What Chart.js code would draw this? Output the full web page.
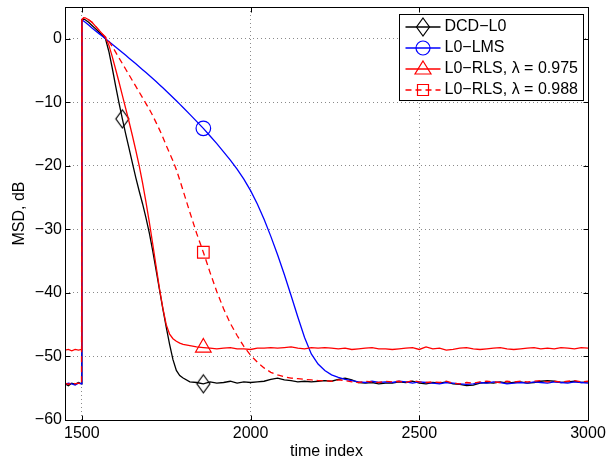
<!DOCTYPE html>
<html>
<head>
<meta charset="utf-8">
<script src="https://cdn.jsdelivr.net/npm/chart.js@4"></script>
<style>
  html, body { margin: 0; padding: 0; background: #fff; }
  #wrap { width: 608px; height: 462px; }
</style>
</head>
<body>
<div id="wrap"><canvas id="msdChart" width="608" height="462"></canvas></div>
<script>
// time axis samples (shared by all curves)
const timeIdx = [
  1450, 1460, 1470, 1480, 1490, 1499, 1500, 1505,
  1510, 1520, 1530, 1540, 1550, 1560, 1570, 1580, 1590, 1600,
  1610, 1620, 1630, 1640, 1650, 1660, 1670, 1680, 1690, 1700,
  1710, 1720, 1730, 1740, 1750, 1760, 1770, 1780, 1790, 1800,
  1820, 1840, 1860, 1880, 1900, 1920, 1940, 1960, 1980, 2000,
  2020, 2040, 2060, 2080, 2100, 2120, 2140, 2160, 2180, 2200,
  2220, 2240, 2260, 2280, 2300, 2320, 2340, 2360, 2380, 2400,
  2420, 2440, 2460, 2480, 2500, 2520, 2540, 2560, 2580, 2600,
  2620, 2640, 2660, 2680, 2700, 2720, 2740, 2760, 2780, 2800,
  2820, 2840, 2860, 2880, 2900, 2920, 2940, 2960, 2980, 3000
];

const dcdMsd = [
  -54.3, -54.6, -54.2, -54.4, -54.1, -54.3, 3.0, 3.1,
  3.0, 2.6, 2.1, 1.6, 1.1, 0.6, 0.0, -2.0, -4.6, -7.4,
  -10.1, -12.6, -15.0, -17.3, -19.6, -21.9, -24.0, -26.0, -28.2, -30.6,
  -33.4, -36.4, -39.5, -42.5, -45.4, -48.1, -50.5, -52.2, -53.0, -53.4,
  -54.0, -54.1, -54.3, -54.0, -54.2, -54.1, -53.9, -54.2, -54.0, -54.1,
  -54.0, -53.9, -53.6, -53.4, -53.7, -53.8, -54.0, -53.9, -54.0, -53.9,
  -53.8, -53.9, -53.6, -53.4, -53.7, -54.1, -54.2, -54.1, -54.3, -54.2,
  -54.2, -54.0, -54.1, -53.9, -54.2, -54.3, -54.1, -54.2, -54.0, -54.3,
  -54.4, -54.6, -54.5, -54.2, -54.1, -54.2, -54.0, -54.2, -54.1, -54.0,
  -54.2, -54.1, -53.9, -53.8, -53.9, -54.1, -54.0, -53.9, -54.1, -54.0
];

const lmsMsd = [
  -54.4, -54.2, -54.3, -54.5, -54.2, -54.3, 3.0, 2.8,
  2.6, 2.15, 1.7, 1.27, 0.85, 0.42, 0.0, -0.43, -0.86, -1.3,
  -1.73, -2.17, -2.61, -3.05, -3.5, -3.95, -4.4, -4.86, -5.32, -5.79,
  -6.26, -6.74, -7.22, -7.71, -8.21, -8.72, -9.23, -9.75, -10.28, -10.81,
  -11.9, -13.0, -14.1, -15.3, -16.5, -17.8, -19.1, -20.5, -22.1, -23.9,
  -26.0, -28.4, -31.1, -34.0, -37.1, -40.4, -43.8, -47.0, -49.6, -51.2,
  -52.2, -52.9, -53.3, -53.6, -53.8, -54.0, -54.1, -53.9, -54.1, -54.0,
  -54.1, -53.9, -54.0, -54.2, -54.0, -54.1, -54.2, -54.3, -54.1, -54.2,
  -54.3, -54.4, -54.3, -54.1, -54.2, -54.0, -54.1, -54.3, -54.2, -54.1,
  -54.2, -54.0, -54.1, -54.2, -54.0, -54.1, -54.2, -54.0, -54.1, -54.2
];

const rls975Msd = [
  -49.0, -48.9, -49.1, -48.9, -49.0, -48.9, 3.0, 3.3,
  3.3, 3.0, 2.6, 2.0, 1.4, 0.8, 0.2, -1.0, -2.8, -4.8,
  -6.8, -8.9, -11.0, -13.1, -15.3, -17.6, -20.0, -22.7, -25.7, -28.9,
  -32.3, -35.8, -39.3, -42.4, -45.0, -46.5, -47.2, -47.6, -47.9, -48.1,
  -48.3, -48.5, -48.6, -48.7, -48.8, -48.7, -48.6, -48.8, -48.8, -48.9,
  -48.7, -48.7, -48.6, -48.7, -48.6, -48.5, -48.7, -48.8, -48.6, -48.7,
  -48.6, -48.7, -48.8, -48.7, -48.9, -48.8, -48.7, -48.6, -48.8, -48.8,
  -48.9, -48.8, -48.7, -48.6, -48.9, -48.5, -48.8, -48.7, -49.0, -48.9,
  -48.7, -48.6, -48.8, -48.9, -48.8, -48.7, -48.6, -48.8, -48.9, -48.8,
  -48.7, -48.6, -48.8, -48.7, -48.8, -48.6, -48.7, -48.8, -48.6, -48.7
];

const rls988Msd = [
  -54.2, -54.4, -54.1, -54.3, -54.2, -54.4, 3.0, 3.3,
  3.3, 3.0, 2.6, 2.0, 1.4, 0.8, 0.3, -0.4, -1.2, -2.1,
  -3.0, -3.9, -4.8, -5.7, -6.6, -7.5, -8.4, -9.3, -10.2, -11.1,
  -12.1, -13.2, -14.3, -15.5, -16.8, -18.0, -19.2, -20.6, -22.2, -23.9,
  -27.3, -30.6, -33.6, -36.8, -39.8, -42.5, -44.8, -46.7, -48.4, -49.8,
  -50.9, -51.8, -52.5, -52.9, -53.2, -53.4, -53.5, -53.6, -53.7, -53.8,
  -53.8, -53.9, -53.7, -53.8, -54.0, -54.1, -53.9, -54.0, -54.1, -53.9,
  -54.0, -53.9, -54.1, -53.8, -54.0, -54.1, -54.0, -54.1, -53.9, -54.2,
  -54.3, -54.1, -54.2, -54.0, -53.9, -54.0, -54.1, -53.9, -54.0, -53.9,
  -54.0, -53.9, -53.8, -54.0, -53.9, -54.0, -53.9, -53.8, -54.0, -53.9
];

// where the markers sit on each curve
const dcdMarks = [1620, 1860];
const lmsMarks = [1860];
const rls975Marks = [1860];
const rls988Marks = [1860];

const xTicks = [1500, 2000, 2500, 3000];
const yTicks = [-60, -50, -40, -30, -20, -10, 0];

const FONT = { family: "'Liberation Sans', Arial, sans-serif", size: 16 };

function diamondMarker(w, h, color) {
  const c = document.createElement('canvas');
  c.width = w + 4;
  c.height = h + 4;
  const g = c.getContext('2d');
  g.strokeStyle = color;
  g.lineWidth = 1.2;
  g.beginPath();
  g.moveTo(c.width / 2, 2);
  g.lineTo(c.width - 2, c.height / 2);
  g.lineTo(c.width / 2, c.height - 2);
  g.lineTo(2, c.height / 2);
  g.closePath();
  g.stroke();
  return c;
}

const diamondImg = diamondMarker(13, 18, '#000');

function series(values) {
  return timeIdx.map((t, i) => ({ x: t, y: values[i] }));
}

function markAt(marks, r) {
  return ctx => (marks.includes(timeIdx[ctx.dataIndex]) ? r : 0);
}

// legend symbol drawn by hand (MATLAB style)
function drawLegendMarker(ctx, kind, x, y, color) {
  ctx.save();
  ctx.setLineDash([]);
  ctx.strokeStyle = color;
  ctx.lineWidth = 1.2;
  ctx.beginPath();
  if (kind === 'diamond') {
    ctx.moveTo(x, y - 9); ctx.lineTo(x + 6.5, y); ctx.lineTo(x, y + 9); ctx.lineTo(x - 6.5, y);
    ctx.closePath();
  } else if (kind === 'circle') {
    ctx.arc(x, y, 7, 0, Math.PI * 2);
  } else if (kind === 'triangle') {
    ctx.moveTo(x, y - 8); ctx.lineTo(x + 8, y + 5); ctx.lineTo(x - 8, y + 5);
    ctx.closePath();
  } else {
    ctx.rect(x - 5.5, y - 5.5, 11, 11);
  }
  ctx.stroke();
  ctx.restore();
}

const frameAndLegend = {
  id: 'frameAndLegend',
  afterDraw(chart) {
    const { ctx, chartArea: a, scales: { x, y } } = chart;
    const L = Math.round(a.left) + 0.5, R = Math.round(a.right) + 0.5;
    const T = Math.round(a.top) + 0.5, B = Math.round(a.bottom) + 0.5;
    ctx.save();
    ctx.strokeStyle = '#000';
    ctx.lineWidth = 1;
    ctx.strokeRect(L, T, R - L, B - T);

    // inward tick marks on all four sides
    ctx.beginPath();
    x.ticks.forEach(t => {
      const px = Math.round(x.getPixelForValue(t.value)) + 0.5;
      ctx.moveTo(px, B); ctx.lineTo(px, B - 5);
      ctx.moveTo(px, T); ctx.lineTo(px, T + 5);
    });
    y.ticks.forEach(t => {
      const py = Math.round(y.getPixelForValue(t.value)) + 0.5;
      ctx.moveTo(L, py); ctx.lineTo(L + 5, py);
      ctx.moveTo(R, py); ctx.lineTo(R - 5, py);
    });
    ctx.stroke();

    // legend box
    ctx.font = `${FONT.size}px ${FONT.family}`;
    const sets = chart.data.datasets;
    const textW = Math.max(...sets.map(d => ctx.measureText(d.label).width));
    const boxW = Math.round(45 + textW + 6);
    const boxH = 86;
    const bx = Math.round(a.right - 5 - boxW) + 0.5;
    const by = Math.round(a.top + 7) + 0.5;
    ctx.fillStyle = '#fff';
    ctx.fillRect(bx, by, boxW, boxH);
    ctx.strokeStyle = '#000';
    ctx.strokeRect(bx, by, boxW, boxH);

    sets.forEach((d, i) => {
      const ry = by + 12.5 + i * 21;
      ctx.save();
      ctx.strokeStyle = d.borderColor;
      ctx.lineWidth = d.borderWidth;
      ctx.setLineDash(d.borderDash || []);
      ctx.beginPath();
      ctx.moveTo(bx + 6, ry);
      ctx.lineTo(bx + 41, ry);
      ctx.stroke();
      ctx.restore();
      drawLegendMarker(ctx, d.marker, bx + 23.5, ry, d.borderColor);
      ctx.fillStyle = '#000';
      ctx.textBaseline = 'middle';
      ctx.textAlign = 'left';
      ctx.fillText(d.label, bx + 45, ry);
    });
    ctx.restore();
  }
};

const gridColor = '#8a8a8a';

new Chart(document.getElementById('msdChart'), {
  type: 'line',
  data: {
    datasets: [
      {
        label: 'DCD\u2212L0', marker: 'diamond', data: series(dcdMsd),
        borderColor: '#000000', borderWidth: 1.3, order: 4,
        pointStyle: diamondImg, pointRadius: markAt(dcdMarks, 8),
      },
      {
        label: 'L0\u2212LMS', marker: 'circle', data: series(lmsMsd),
        borderColor: '#0000ff', borderWidth: 1.3, order: 3,
        pointStyle: 'circle', pointRadius: markAt(lmsMarks, 7.3),
      },
      {
        label: 'L0\u2212RLS, \u03bb = 0.975', marker: 'triangle', data: series(rls975Msd),
        borderColor: '#ff0000', borderWidth: 1.3, order: 2,
        pointStyle: 'triangle', pointRadius: markAt(rls975Marks, 9),
      },
      {
        label: 'L0\u2212RLS, \u03bb = 0.988', marker: 'rect', data: series(rls988Msd),
        borderColor: '#ff0000', borderWidth: 1.3, borderDash: [6, 4], order: 1,
        pointStyle: 'rect', pointRadius: markAt(rls988Marks, 8.2),
      },
    ].map(d => Object.assign({
      fill: false, tension: 0,
      pointBorderColor: d.borderColor, pointBackgroundColor: 'rgba(0,0,0,0)',
      pointBorderWidth: 1.2, pointHoverRadius: 0,
    }, d)),
  },
  options: {
    responsive: false,
    animation: false,
    devicePixelRatio: 1,
    events: [],
    layout: { padding: { left: 0, top: 7, right: 20, bottom: 0 } },
    plugins: { legend: { display: false }, tooltip: { enabled: false } },
    scales: {
      x: {
        type: 'linear', min: 1450, max: 3000,
        afterBuildTicks: s => { s.ticks = xTicks.map(v => ({ value: v })); },
        afterFit: s => { s.height = 42; s.paddingLeft = 0; s.paddingRight = 0; },
        grid: { color: gridColor, lineWidth: 1, drawTicks: false },
        border: { display: false, dash: [1, 3] },
        ticks: {
          color: '#000', font: FONT, padding: 4, maxRotation: 0, autoSkip: false,
          callback: v => String(v),
        },
        title: { display: true, text: 'time index', color: '#000', font: FONT, padding: { top: 0, bottom: 1 } },
      },
      y: {
        type: 'linear', min: -60, max: 5,
        afterBuildTicks: s => { s.ticks = yTicks.map(v => ({ value: v })); },
        afterFit: s => { s.width = 65; s.paddingTop = 0; s.paddingBottom = 0; },
        grid: { color: gridColor, lineWidth: 1, drawTicks: false },
        border: { display: false, dash: [1, 3] },
        ticks: {
          color: '#000', font: FONT, padding: 3, autoSkip: false,
          callback: v => String(v).replace('-', '\u2212'),
        },
        title: { display: true, text: 'MSD, dB', color: '#000', font: FONT, padding: { top: 9.5, bottom: 0 } },
      },
    },
  },
  plugins: [frameAndLegend],
});
</script>
</body>
</html>
